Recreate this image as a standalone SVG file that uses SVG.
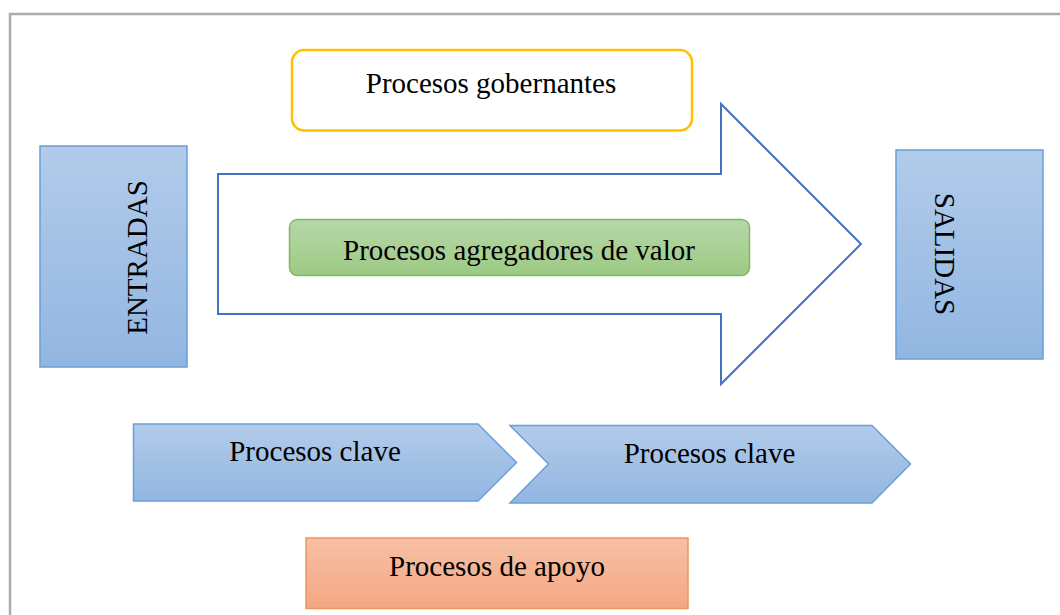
<svg xmlns="http://www.w3.org/2000/svg" width="1060" height="615" viewBox="0 0 1060 615">
  <defs>
    <linearGradient id="gBlue" x1="0" y1="0" x2="0" y2="1">
      <stop offset="0" stop-color="#b2cbea"/>
      <stop offset="1" stop-color="#92b6e1"/>
    </linearGradient>
    <linearGradient id="gGreen" x1="0" y1="0" x2="0" y2="1">
      <stop offset="0" stop-color="#b7d7a8"/>
      <stop offset="1" stop-color="#9cca84"/>
    </linearGradient>
    <linearGradient id="gOrange" x1="0" y1="0" x2="0" y2="1">
      <stop offset="0" stop-color="#f7c0a5"/>
      <stop offset="1" stop-color="#f4a784"/>
    </linearGradient>
  </defs>
  <style>
    .lbl { font-family: "Liberation Serif", "Times New Roman", serif; font-size: 29px; fill: #000; text-anchor: middle; }
    .blue { fill: url(#gBlue); stroke: #6a9fd8; stroke-width: 1.5; }
  </style>
  <rect x="0" y="0" width="1060" height="615" fill="#ffffff"/>
  <rect id="frame" x="10" y="14" width="1060" height="620" fill="none" stroke="#ababab" stroke-width="2.5"/>

  <g id="connectors">
    <polygon points="218,174 721,174 721,104 861,244 721,384 721,314 218,314" fill="#ffffff" stroke="#4472c4" stroke-width="2"/>
  </g>

  <g id="entradas">
    <rect class="blue" x="40" y="146" width="147" height="221"/>
    <text class="lbl" transform="translate(147,257.5) rotate(-90)">ENTRADAS</text>
  </g>

  <g id="salidas">
    <rect class="blue" x="896" y="150" width="147" height="209"/>
    <text class="lbl" transform="translate(935,254) rotate(90)">SALIDAS</text>
  </g>

  <g id="gobernantes">
    <rect x="292" y="50" width="400" height="80.5" rx="12" ry="12" fill="#ffffff" stroke="#ffc000" stroke-width="2.5"/>
    <text class="lbl" x="491" y="92.5">Procesos gobernantes</text>
  </g>

  <g id="agregadores">
    <rect x="289.5" y="219.5" width="460" height="56" rx="8" ry="8" fill="url(#gGreen)" stroke="#80b960" stroke-width="1.5"/>
    <text class="lbl" x="519" y="260">Procesos agregadores de valor</text>
  </g>

  <g id="clave1">
    <polygon class="blue" points="133.5,424 478,424 516.5,462.5 478,501 133.5,501"/>
    <text class="lbl" x="315" y="460.5">Procesos clave</text>
  </g>

  <g id="clave2">
    <polygon class="blue" points="510,425.5 872,425.5 910.5,464 872,503 510,503 548.5,464"/>
    <text class="lbl" x="709.5" y="462.5">Procesos clave</text>
  </g>

  <g id="apoyo">
    <rect x="306" y="538" width="382" height="70.5" fill="url(#gOrange)" stroke="#f0955a" stroke-width="1.5"/>
    <text class="lbl" x="497" y="575.5">Procesos de apoyo</text>
  </g>
</svg>
